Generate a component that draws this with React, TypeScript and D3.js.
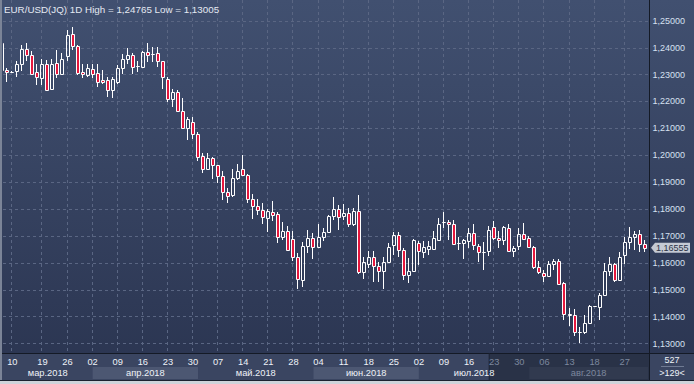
import React from "react";
import * as d3 from "d3";

const opens = [1.2417,1.2316,1.2309,1.2312,1.2338,1.2394,1.2371,1.2309,1.2285,1.2338,1.2244,1.2342,1.2303,1.2369,1.2450,1.2406,1.2308,1.2297,1.2321,1.2306,1.2278,1.2278,1.2241,1.2272,1.2322,1.2357,1.2371,1.2331,1.2328,1.2383,1.2374,1.2379,1.2349,1.2282,1.2208,1.2235,1.2163,1.2102,1.2123,1.2078,1.1996,1.1950,1.1990,1.1962,1.1921,1.1862,1.1852,1.1914,1.1949,1.1927,1.1838,1.1809,1.1797,1.1768,1.1788,1.1781,1.1695,1.1716,1.1688,1.1621,1.1534,1.1663,1.1691,1.1657,1.1695,1.1714,1.1774,1.1800,1.1772,1.1784,1.1743,1.1793,1.1567,1.1595,1.1621,1.1588,1.1571,1.1602,1.1666,1.1704,1.1648,1.1555,1.1570,1.1673,1.1639,1.1652,1.1652,1.1686,1.1750,1.1752,1.1744,1.1673,1.1674,1.1680,1.1711,1.1661,1.1640,1.1643,1.1733,1.1692,1.1686,1.1729,1.1643,1.1661,1.1707,1.1692,1.1659,1.1584,1.1562,1.1550,1.1595,1.1608,1.1525,1.1407,1.1404,1.1342,1.1342,1.1376,1.1438,1.1435,1.1479,1.1568,1.1597,1.1537,1.1628,1.1677,1.1696,1.1707,1.1670];
const highs = [1.2421,1.2322,1.2312,1.2349,1.2409,1.2416,1.2386,1.2337,1.2359,1.2355,1.2359,1.2390,1.2378,1.2465,1.24765,1.2408,1.2338,1.2338,1.2337,1.2338,1.2316,1.2291,1.2291,1.2334,1.2374,1.2399,1.2378,1.2349,1.2386,1.2417,1.2402,1.2402,1.2349,1.2291,1.2247,1.2241,1.2213,1.2142,1.2142,1.2086,1.2006,1.2006,1.1993,1.1964,1.1942,1.1877,1.1949,1.1967,1.1999,1.1929,1.1855,1.1838,1.1821,1.1800,1.1830,1.1790,1.1751,1.1735,1.1716,1.1635,1.1676,1.1722,1.1710,1.1743,1.1728,1.1778,1.1843,1.1813,1.1818,1.1805,1.1805,1.1852,1.1623,1.1642,1.1642,1.1604,1.1623,1.1673,1.1714,1.1714,1.1654,1.1617,1.1689,1.1681,1.1679,1.1680,1.1717,1.1767,1.1789,1.1760,1.1760,1.1696,1.1688,1.1729,1.1745,1.1671,1.1677,1.1738,1.1754,1.1717,1.1738,1.1745,1.1661,1.1729,1.1748,1.1701,1.1661,1.1608,1.1574,1.1608,1.1612,1.1612,1.1527,1.1432,1.1429,1.1361,1.1407,1.1444,1.1440,1.1488,1.1599,1.1621,1.1599,1.1639,1.1696,1.1733,1.1717,1.1721,1.1686];
const lows = [1.2310,1.2272,1.2306,1.2291,1.2312,1.2349,1.2297,1.2260,1.2260,1.2241,1.2241,1.2285,1.2297,1.2350,1.2390,1.2297,1.2287,1.2291,1.2287,1.2254,1.2266,1.2216,1.2213,1.2266,1.2303,1.2340,1.2300,1.2309,1.2324,1.2347,1.2347,1.2328,1.2247,1.2198,1.2179,1.2161,1.2096,1.2055,1.2061,1.1977,1.1935,1.1947,1.1910,1.1896,1.1834,1.1821,1.1846,1.1908,1.1921,1.1821,1.1763,1.1778,1.1743,1.1714,1.1756,1.1673,1.1685,1.1644,1.1607,1.1503,1.1511,1.1635,1.1613,1.1657,1.1679,1.1710,1.1759,1.1722,1.1759,1.1731,1.1735,1.1557,1.1540,1.1580,1.1528,1.1530,1.1503,1.1598,1.1627,1.1623,1.1536,1.1524,1.1567,1.1592,1.1619,1.1630,1.1652,1.1683,1.1729,1.1686,1.1665,1.1649,1.1612,1.1655,1.1649,1.1602,1.1572,1.1624,1.1686,1.1655,1.1667,1.1640,1.1620,1.1646,1.1683,1.1659,1.1578,1.1559,1.1527,1.1547,1.1572,1.1519,1.1386,1.1364,1.1326,1.13005,1.1336,1.1373,1.1436,1.1388,1.1479,1.1550,1.1527,1.1531,1.1595,1.1651,1.1649,1.1640,1.1639];
const closes = [1.2316,1.2309,1.2310,1.2338,1.2394,1.2371,1.2302,1.2290,1.2337,1.2241,1.2338,1.2303,1.2357,1.2446,1.2406,1.2307,1.2300,1.2324,1.2303,1.2270,1.2272,1.2241,1.2282,1.2324,1.2357,1.2371,1.2326,1.2332,1.2384,1.2373,1.2375,1.2349,1.2291,1.2208,1.2235,1.2163,1.2101,1.2133,1.2078,1.1993,1.1950,1.1990,1.1962,1.1921,1.1862,1.1849,1.1914,1.1942,1.1927,1.1838,1.1809,1.1797,1.1771,1.1793,1.1778,1.1697,1.1719,1.1648,1.1622,1.1539,1.1663,1.1691,1.1658,1.1695,1.1714,1.1774,1.1800,1.1771,1.1784,1.1743,1.1793,1.1567,1.1604,1.1621,1.1588,1.1571,1.1602,1.1658,1.1704,1.1648,1.1555,1.1570,1.1685,1.1642,1.1658,1.1661,1.1690,1.1745,1.1751,1.1744,1.1670,1.1674,1.1686,1.1711,1.1664,1.1640,1.1641,1.1721,1.1692,1.1686,1.1731,1.1643,1.1655,1.1708,1.1688,1.1659,1.1583,1.1564,1.1552,1.1595,1.1608,1.1522,1.1409,1.1408,1.1342,1.1343,1.1376,1.1440,1.1439,1.1481,1.1571,1.1597,1.1537,1.1621,1.1677,1.1696,1.1707,1.1670,1.16555];

const yTicks = [1.13,1.14,1.15,1.16,1.17,1.18,1.19,1.2,1.21,1.22,1.23,1.24,1.25];
const dateLabels = ["10","19","26","02","09","16","23","30","07","14","21","28","04","11","18","25","02","09","16","23","30","06","13","18","27"];
const dateLabelIdx = [2,8,13,18,23,28,33,38,43,48,53,58,63,68,73,78,83,88,93,98,103,108,113,118,124];
const months = ["мар.2018","апр.2018","май.2018","июн.2018","июл.2018","авг.2018"];
const monthStartIdx = [0,18,39,62,83,105];
const lastPrice = 1.16555;
const titleText = "EUR/USD(JQ) 1D High = 1,24765 Low = 1,13005";
const barCountText = "527";
const visibleText = ">129<";
const dimFromIdx = 97;

const W = 694, H = 384;
const PL = 3, PR = 648, AX = 649, BY = 353, BB = 380;
const FONT = "'Liberation Sans', Arial, sans-serif";

export default function App() {
  const n = opens.length;
  const x = d3.scaleLinear().domain([0, n - 1]).range([2.26, 644.8]);
  const y = d3.scaleLinear().domain([1.13, 1.25]).range([343.4, 20.6]);
  const fmt = (v: number) => d3.format(".5f")(v).replace(".", ",");
  const dimX = x(dimFromIdx);
  const monthEdges = monthStartIdx.map((i) => (i === 0 ? PL : x(i)));
  const monthRanges = months.map((m, k) => [monthEdges[k], k + 1 < months.length ? monthEdges[k + 1] : PR]);

  const candles = d3.range(n).map((i) => {
    const o = opens[i], c = closes[i], h = highs[i], l = lows[i];
    const px = Math.round(x(i));
    const top = Math.round(y(Math.max(o, c)));
    const bot = Math.round(y(Math.min(o, c)));
    const hy = Math.round(y(h));
    const ly = Math.round(y(l));
    const bear = c < o;
    const wx = px - 0.5;
    const body = `M${px - 1.5},${top + 0.5}H${px + 1.5}V${bot + 0.5}H${px - 1.5}Z`;
    return (
      <g key={i}>
        {hy < top && <line x1={wx} x2={wx} y1={hy} y2={top} stroke="#ffffff" strokeWidth={1} />}
        {ly > bot && <line x1={wx} x2={wx} y1={bot + 1} y2={ly} stroke="#ffffff" strokeWidth={1} />}
        <path d={body} fill={bear ? "#e5173d" : "none"} stroke="#ffffff" strokeWidth={1} />
      </g>
    );
  });

  const ty = y(lastPrice);

  return (
    <svg width={W} height={H} style={{ position: "absolute", left: 0, top: 0, display: "block" }} fontFamily={FONT}>
      <defs>
        <linearGradient id="bg" x1="0" y1="0" x2="0" y2="1">
          <stop offset="0" stopColor="#415070" />
          <stop offset="1" stopColor="#2a3450" />
        </linearGradient>
        <clipPath id="plotClip">
          <rect x={PL} y={0} width={PR - PL} height={BY} />
        </clipPath>
      </defs>
      <rect x={0} y={0} width={W} height={H} fill="url(#bg)" />

      {/* grid */}
      <g stroke="#5a6683" strokeWidth={1} strokeDasharray="3,3">
        {yTicks.map((t) => (
          <line key={t} x1={PL} x2={PR} y1={Math.round(y(t)) + 0.5} y2={Math.round(y(t)) + 0.5} />
        ))}
        {dateLabelIdx.map((i) => (
          <line key={i} x1={Math.round(x(i)) - 0.5} x2={Math.round(x(i)) - 0.5} y1={0} y2={BY} />
        ))}
      </g>

      <g clipPath="url(#plotClip)">{candles}</g>

      <text x={4} y={13} fill="#e4e9f2" fontSize={9.8}>{titleText}</text>

      {/* right axis */}
      <line x1={AX + 0.5} x2={AX + 0.5} y1={0} y2={BB} stroke="#141a26" strokeWidth={1} />
      {yTicks.map((t) => (
        <text key={t} x={652.5} y={y(t)} dy="0.35em" fill="#d6e0f0" fontSize={9}>{fmt(t)}</text>
      ))}
      <path
        d={`M${651},${ty} L${655},${ty - 5} H${690} V${ty + 5} H${655} Z`}
        fill="#c5cad4"
      />
      <text x={656} y={ty} dy="0.35em" fill="#2b3346" fontSize={9}>{fmt(lastPrice)}</text>

      {/* bottom axis */}
      <rect x={0} y={BY} width={AX} height={BB - BY} fill="#3a4561" />
      {monthRanges.map(([a, b], k) => (
        <rect key={k} x={a} y={367} width={b - a} height={12} fill={k % 2 === 1 ? "#4c5772" : "#3a4561"} />
      ))}
      <rect x={dimX} y={BY} width={AX - dimX} height={BB - BY} fill="#1c2333" opacity={0.55} />
      <line x1={0} x2={AX} y1={BY + 0.5} y2={BY + 0.5} stroke="#141a26" strokeWidth={1} />
      <line x1={dimX} x2={dimX} y1={BY} y2={BB} stroke="#1c2333" strokeWidth={1} />
      {dateLabels.map((d, k) => {
        const xi = x(dateLabelIdx[k]);
        return (
          <text key={k} x={xi} y={362} dy="0.35em" textAnchor="middle" fontSize={9.3}
            fill={xi > dimX ? "#7d889e" : "#eef2f8"}>{d}</text>
        );
      })}
      {months.map((m, k) => {
        const [a, b] = monthRanges[k];
        const cx = (a + b) / 2;
        return (
          <text key={m} x={cx} y={373} dy="0.35em" textAnchor="middle" fontSize={9.3}
            fill={cx > dimX ? "#7d889e" : "#eef2f8"}>{m}</text>
        );
      })}
      {/* corner */}
      <rect x={AX + 1} y={BY} width={W - AX - 1} height={BB - BY} fill="#3a4561" />
      <line x1={AX} x2={W} y1={BY + 0.5} y2={BY + 0.5} stroke="#141a26" strokeWidth={1} />
      <text x={672} y={360} dy="0.35em" textAnchor="middle" fontSize={9} fill="#eef2f8">{barCountText}</text>
      <line x1={661} x2={684} y1={366.5} y2={366.5} stroke="#6f7a92" strokeWidth={1} />
      <text x={672} y={373} dy="0.35em" textAnchor="middle" fontSize={9} fill="#eef2f8">{visibleText}</text>

      {/* window borders */}
      <rect x={0} y={0} width={2} height={BB} fill="#7b8497" />
      <rect x={0} y={BB} width={W} height={H - BB} fill="#cfd3da" />
      <line x1={0} x2={W} y1={BB + 0.5} y2={BB + 0.5} stroke="#1b2130" strokeWidth={1} />
    </svg>
  );
}
